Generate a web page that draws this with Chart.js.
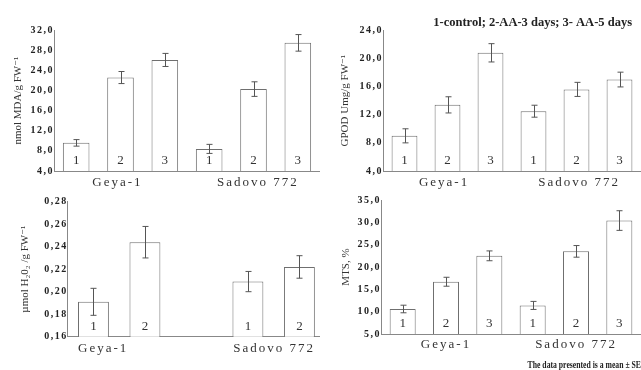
<!DOCTYPE html>
<html>
<head>
<meta charset="utf-8">
<script src="https://cdn.jsdelivr.net/npm/chart.js@4/dist/chart.umd.min.js"></script>
<style>
  body { margin: 0; background: #fff; }
  #wrap { position: relative; width: 641px; height: 370px; overflow: hidden; }
  canvas { position: absolute; }
</style>
</head>
<body>
<div id="wrap">
  <canvas id="mda" width="320" height="200" style="left:0;top:0"></canvas>
  <canvas id="gpod" width="321" height="200" style="left:320px;top:0"></canvas>
  <canvas id="h2o2" width="320" height="185" style="left:0;top:185px"></canvas>
  <canvas id="mts" width="321" height="185" style="left:320px;top:185px"></canvas>
</div>
<script>
// cultivars and treatment numbers (1-control, 2-AA 3 days, 3-AA 5 days)
const groups = ['Geya-1', 'Sadovo 772'];
const treat3 = ['1', '2', '3', '1', '2', '3'];
const treat2 = ['1', '2', '1', '2'];
const slots3 = [1, 2, 3, 4, 5, 6];
const slots2 = [1, 2, 4, 5];

// values, with their SE
const mda = [9.6, 22.6, 26.1, 8.4, 20.3, 29.5];
const mdaErr = [0.65, 1.2, 1.3, 0.9, 1.45, 1.65];
const gpod = [9.0, 13.4, 20.8, 12.5, 15.6, 17.0];
const gpodErr = [1.0, 1.15, 1.3, 0.85, 1.0, 1.05];
const h2o2 = [0.191, 0.244, 0.209, 0.222];
const h2o2Err = [0.012, 0.014, 0.009, 0.010];
const mts = [10.6, 16.7, 22.5, 11.4, 23.5, 30.4];
const mtsErr = [0.85, 1.0, 1.1, 0.9, 1.3, 2.2];

const serif = '"Liberation Serif", "DejaVu Serif", serif';

// error bars + the treatment number inside each bar
const errorBars = {
  id: 'errorBars',
  afterDatasetsDraw(chart) {
    const ctx = chart.ctx;
    const y = chart.scales.y;
    const ds = chart.data.datasets[0];
    const bars = chart.getDatasetMeta(0).data;
    ctx.save();
    ctx.strokeStyle = '#555';
    ctx.lineWidth = 1;
    bars.forEach((bar, i) => {
      const v = ds.data[i].y, e = ds.errs[i];
      const x = Math.round(bar.x) + 0.5;
      const t = y.getPixelForValue(v + e), b = y.getPixelForValue(v - e);
      ctx.beginPath();
      ctx.moveTo(x, t); ctx.lineTo(x, b);
      ctx.moveTo(x - 3, t); ctx.lineTo(x + 3, t);
      ctx.moveTo(x - 3, b); ctx.lineTo(x + 3, b);
      ctx.stroke();
    });
    ctx.fillStyle = '#333';
    ctx.font = '13px ' + serif;
    ctx.textAlign = 'center';
    bars.forEach((bar, i) => ctx.fillText(ds.treat[i], bar.x, chart.chartArea.bottom - 7));
    ctx.restore();
  }
};

// the tick labels in the picture are letter spaced
const spacedTicks = {
  id: 'spacedTicks',
  beforeDraw(chart) {
    Object.values(chart.scales).forEach(s => {
      if (s._spaced) return;
      const draw = s.drawLabels;
      const ls = s.axis === 'x' ? '2px' : '1.5px';
      s.drawLabels = function (area) {
        chart.ctx.save();
        chart.ctx.letterSpacing = ls;
        draw.call(this, area);
        chart.ctx.restore();
      };
      s._spaced = true;
    });
  }
};

// free text (legend line, footnote)
const note = {
  id: 'note',
  afterDraw(chart, args, o) {
    if (!o.text) return;
    const ctx = chart.ctx;
    ctx.save();
    ctx.translate(o.x, o.y);
    ctx.scale(o.squeeze || 1, 1);
    ctx.font = o.font;
    ctx.fillStyle = '#222';
    ctx.textAlign = 'right';
    ctx.fillText(o.text, 0, 0);
    ctx.restore();
  }
};

function makeChart(id, c) {
  return new Chart(document.getElementById(id), {
    type: 'bar',
    data: {
      datasets: [{
        data: c.slots.map((s, i) => ({ x: s, y: c.values[i] })),
        errs: c.errs,
        treat: c.treat,
        backgroundColor: '#fff',
        borderColor: '#6f6f6f',
        borderWidth: 1,
        categoryPercentage: 0.6,
        barPercentage: 1
      }]
    },
    options: {
      responsive: false,
      animation: false,
      events: [],
      layout: { padding: { top: c.top, left: 0, right: 0, bottom: 0 } },
      scales: {
        x: {
          type: 'linear',
          offset: false,
          min: 0.5,
          max: c.xMax,
          grid: { display: false, drawTicks: false },
          border: { color: '#888' },
          afterBuildTicks: s => { s.ticks = c.groupAt.map(v => ({ value: v })); },
          afterFit: s => { s.height = c.xHeight; },
          ticks: {
            padding: c.labelPad,
            color: '#333',
            font: { family: serif, size: 13 },
            callback: (v, i) => groups[i]
          }
        },
        y: {
          min: c.yMin,
          max: c.yMax,
          grid: { display: false, drawTicks: false },
          border: { color: '#888' },
          afterFit: s => { s.width = c.yWidth; },
          ticks: {
            stepSize: c.step,
            padding: 0,
            color: '#222',
            font: { family: serif, size: 10, weight: 'bold' },
            callback: v => v.toFixed(c.dec).replace('.', ',')
          },
          title: {
            display: true,
            text: c.yTitle,
            color: '#333',
            font: { family: serif, size: 11 },
            padding: { top: c.titlePad, bottom: 0 }
          }
        }
      },
      plugins: {
        legend: { display: false },
        tooltip: { enabled: false },
        note: c.note || {}
      }
    },
    plugins: [errorBars, spacedTicks, note]
  });
}

makeChart('mda', {
  slots: slots3, values: mda, errs: mdaErr, treat: treat3,
  yMin: 4, yMax: 32, step: 4, dec: 1, yTitle: 'nmol MDA/g FW⁻¹',
  top: 30.3, yWidth: 54, xHeight: 29, xMax: 6.5, labelPad: 4, titlePad: 12,
  groupAt: [1.93, 5.1]
});

makeChart('gpod', {
  slots: slots3, values: gpod, errs: gpodErr, treat: treat3,
  yMin: 4, yMax: 24, step: 4, dec: 1, yTitle: 'GPOD Umg/g FW⁻¹',
  top: 30.3, yWidth: 63, xHeight: 29, xMax: 6.5, labelPad: 4, titlePad: 19,
  groupAt: [1.92, 5.06],
  note: { text: '1-control; 2-AA-3 days; 3- AA-5 days', x: 312, y: 25.5, font: 'bold 12.5px ' + serif }
});

makeChart('h2o2', {
  slots: slots2, values: h2o2, errs: h2o2Err, treat: treat2,
  yMin: 0.16, yMax: 0.28, step: 0.02, dec: 2, yTitle: 'µmol H₂0₂ /g FW⁻¹',
  top: 16.7, yWidth: 67.7, xHeight: 33.3, xMax: 5.4, labelPad: 4.5, titlePad: 19,
  groupAt: [1.19, 4.51]
});

makeChart('mts', {
  slots: slots3, values: mts, errs: mtsErr, treat: treat3,
  yMin: 5, yMax: 35, step: 5, dec: 1, yTitle: 'MTS, %',
  top: 15, yWidth: 61, xHeight: 36, xMax: 6.5, labelPad: 3, titlePad: 20,
  groupAt: [2.0, 5.0],
  note: { text: 'The data presented is a mean ± SE', x: 321, y: 183, font: 'bold 11px ' + serif, squeeze: 0.7 }
});
</script>
</body>
</html>
